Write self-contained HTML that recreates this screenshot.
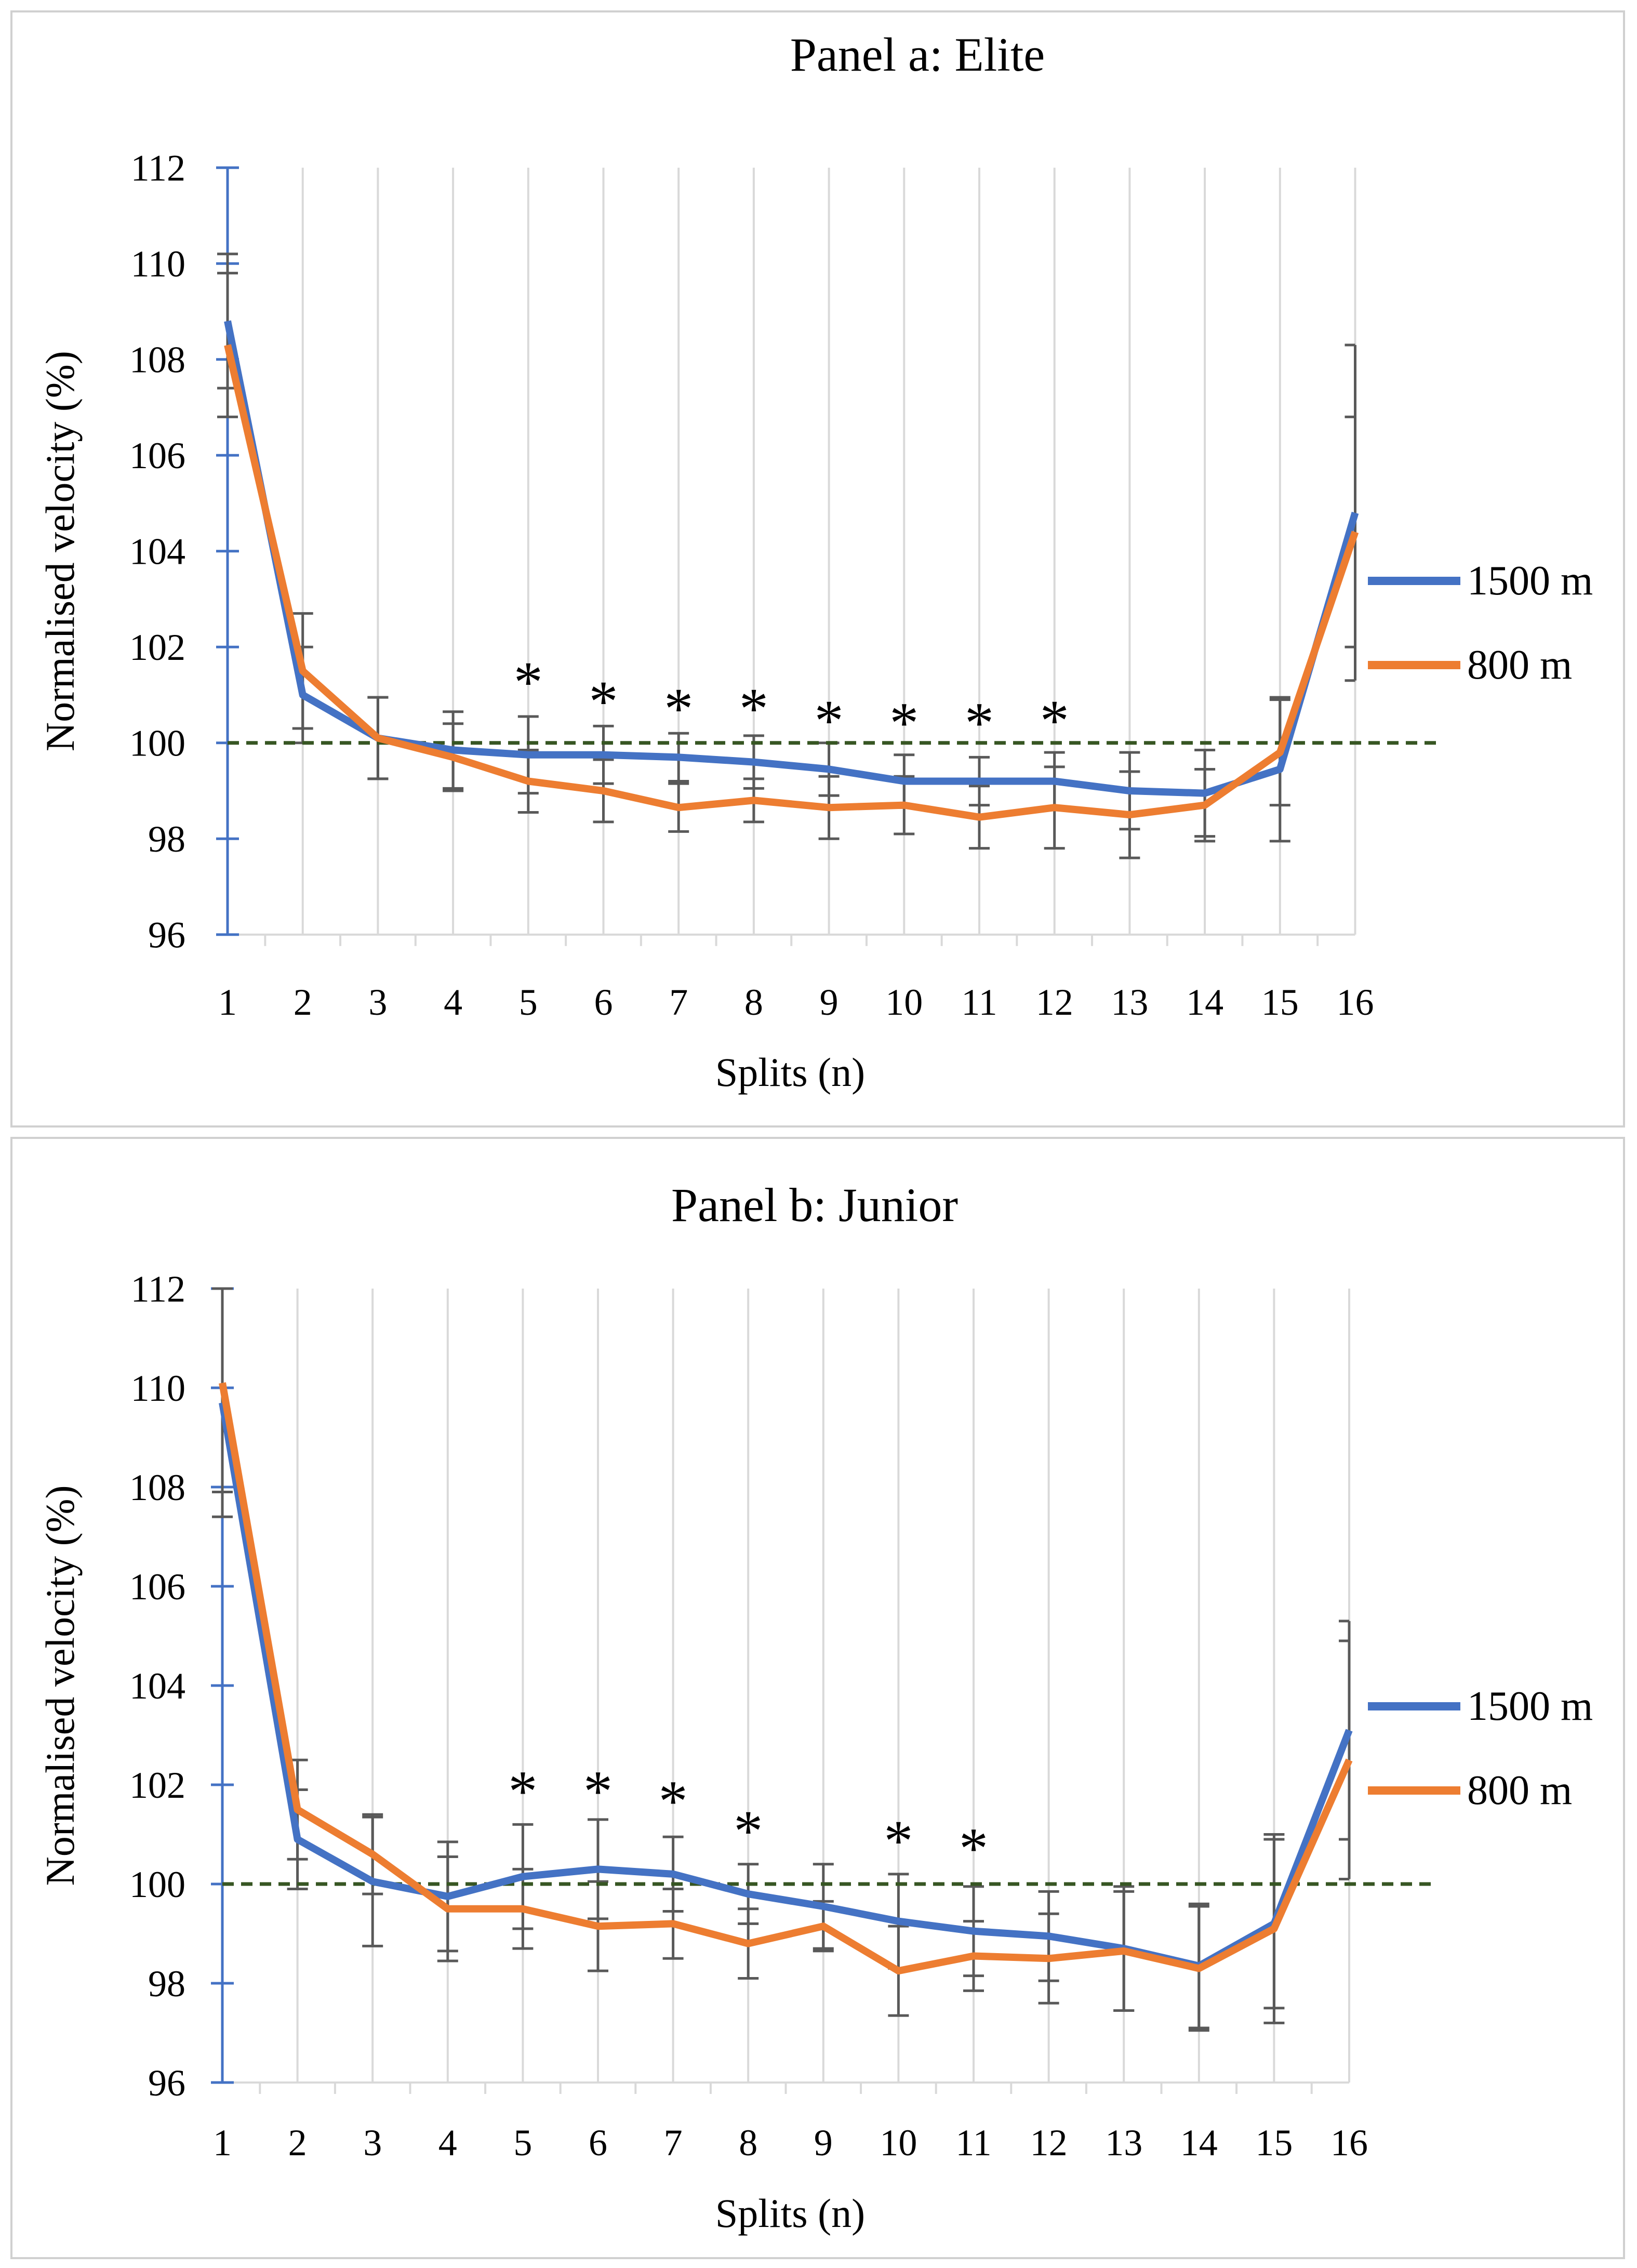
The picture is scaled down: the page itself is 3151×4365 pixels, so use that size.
<!DOCTYPE html>
<html><head><meta charset="utf-8"><style>
html,body{margin:0;padding:0;background:#fff}
svg{display:block}
text{font-family:"Liberation Serif",serif;fill:#000}
</style></head><body>
<svg id="fig" width="3151" height="4365" viewBox="0 0 3151 4365" xmlns="http://www.w3.org/2000/svg">
<rect x="22" y="22" width="3104" height="2146" fill="#fff" stroke="#d0d0d0" stroke-width="4"/>
<rect x="22" y="2190" width="3104" height="2156" fill="#fff" stroke="#d0d0d0" stroke-width="4"/>
</svg>
<script>
const categories = [1,2,3,4,5,6,7,8,9,10,11,12,13,14,15,16];
const yTicks = [96,98,100,102,104,106,108,110,112];
const eliteSeries1500 = [108.8,101.0,100.1,99.85,99.75,99.75,99.7,99.6,99.45,99.2,99.2,99.2,99.0,98.95,99.45,104.8];
const eliteSeries800 = [108.3,101.5,100.1,99.7,99.2,99.0,98.65,98.8,98.65,98.7,98.45,98.65,98.5,98.7,99.8,104.4];
const eliteErr1500 = [1.4,1.0,0.85,0.8,0.8,0.6,0.5,0.55,0.55,0.55,0.5,0.6,0.8,0.9,1.5,3.5];
const eliteErr800 = [1.5,1.2,0.85,0.7,0.65,0.65,0.5,0.45,0.65,0.6,0.65,0.85,0.9,0.75,1.1,2.4];
const eliteStarCats = [5,6,7,8,9,10,11,12];
const eliteStarVals = [101.4,101.0,100.85,100.85,100.6,100.55,100.55,100.6];
const juniorSeries1500 = [109.7,100.9,100.05,99.75,100.15,100.3,100.2,99.8,99.55,99.25,99.05,98.95,98.7,98.35,99.2,103.1];
const juniorSeries800 = [110.1,101.5,100.6,99.5,99.5,99.15,99.2,98.8,99.15,98.25,98.55,98.5,98.65,98.3,99.1,102.5];
const juniorErr1500 = [2.3,1.0,1.3,1.1,1.05,1.0,0.75,0.6,0.85,0.95,0.9,0.9,1.25,1.25,1.7,2.2];
const juniorErr800 = [2.2,1.0,0.8,1.05,0.8,0.9,0.7,0.7,0.5,0.9,0.7,0.9,1.2,1.25,1.9,2.4];
const juniorStarCats = [5,6,7,8,10,11];
const juniorStarVals = [102.0,102.0,101.8,101.2,101.0,100.85];
const refValue = 100;

const NS = "http://www.w3.org/2000/svg";
const svg = document.getElementById('fig');
function mk(tag, attrs, parent){
  const e = document.createElementNS(NS, tag);
  for (const k in attrs) e.setAttribute(k, attrs[k]);
  (parent||svg).appendChild(e);
  return e;
}

function drawPanel(cfg){
  const g = mk('g', {});
  
  
  const x0 = cfg.x0, dx = cfg.dx, yTop = cfg.yTop, yBot = cfg.yBot;
  const xs = c => x0 + (c - 1) * dx;
  const ys = v => yTop + (112 - v) / 16 * (yBot - yTop);
  const xEnd = xs(categories[categories.length-1]);

  const t = mk('text', {x: cfg.titleX, y: cfg.titleY, 'font-size': 92, 'text-anchor': 'middle'}, g);
  t.textContent = cfg.title;
  
  

  categories.forEach(c => {
    if (c === 1) return;
    const l = mk('line', {x1: xs(c), x2: xs(c), y1: yTop, y2: yBot, stroke: '#d9d9d9', 'stroke-width': 4}, g);
    
    
  });
  const xa = mk('line', {x1: x0, x2: xEnd, y1: yBot, y2: yBot, stroke: '#d9d9d9', 'stroke-width': 4}, g);
  
  
  for (let i = 0; i < categories.length - 1; i++) {
    const mx = (xs(categories[i]) + xs(categories[i+1])) / 2;
    const tk = mk('line', {x1: mx, x2: mx, y1: yBot, y2: yBot + 22, stroke: '#d9d9d9', 'stroke-width': 4}, g);
    
    
  }
  categories.forEach(c => {
    const tx = mk('text', {x: xs(c), y: cfg.xLabelY, 'font-size': 72, 'text-anchor': 'middle'}, g);
    tx.textContent = c;
    
    
  });
  const xt = mk('text', {x: 1521, y: cfg.xTitleY, 'font-size': 78, 'text-anchor': 'middle'}, g);
  xt.textContent = 'Splits (n)';
  
  

  const ya = mk('line', {x1: x0, x2: x0, y1: yTop, y2: yBot, stroke: '#4472c4', 'stroke-width': 5}, g);
  
  
  yTicks.forEach(v => {
    const tk = mk('line', {x1: x0 - 22, x2: x0 + 22, y1: ys(v), y2: ys(v), stroke: '#4472c4', 'stroke-width': 5}, g);
    
    
    const tl = mk('text', {x: 357, y: ys(v) + 25, 'font-size': 72, 'text-anchor': 'end'}, g);
    tl.textContent = v;
    
    
  });
  const ymid = (yTop + yBot) / 2;
  const yt = mk('text', {x: 0, y: 0, 'font-size': 78, 'text-anchor': 'middle', transform: `translate(142,${ymid}) rotate(-90)`}, g);
  yt.textContent = 'Normalised velocity (%)';
  
  

  function errBars(vals, errs, name){
    vals.forEach((v, i) => {
      const x = xs(categories[i]);
      const hi = Math.min(v + errs[i], 112), lo = v - errs[i];
      const eb = mk('g', {stroke: '#595959', 'stroke-width': 5}, g);
      
      
      mk('line', {x1: x, x2: x, y1: ys(hi), y2: ys(lo)}, eb);
      const capL = x - 20;
      const capR = i === categories.length - 1 ? x : x + 20;
      mk('line', {x1: capL, x2: capR, y1: ys(hi), y2: ys(hi)}, eb);
      mk('line', {x1: capL, x2: capR, y1: ys(lo), y2: ys(lo)}, eb);
    });
  }
  errBars(cfg.s1500, cfg.e1500, 'error-bar-1500m');
  errBars(cfg.s800, cfg.e800, 'error-bar-800m');

  const rl = mk('line', {x1: x0, x2: 2767, y1: ys(refValue), y2: ys(refValue), stroke: '#375623', 'stroke-width': 7, 'stroke-dasharray': '22 14'}, g);
  
  

  function line(vals, color, name){
    const d = vals.map((v, i) => (i ? 'L' : 'M') + xs(categories[i]).toFixed(1) + ',' + ys(v).toFixed(1)).join(' ');
    const p = mk('path', {d: d, fill: 'none', stroke: color, 'stroke-width': 14, 'stroke-linejoin': 'round'}, g);
    
    
  }
  line(cfg.s1500, '#4472c4', 'line-1500m');
  line(cfg.s800, '#ed7d31', 'line-800m');

  cfg.starCats.forEach((c, i) => {
    const st = mk('text', {x: xs(c), y: ys(cfg.starVals[i]) + 50, 'font-size': 112, 'text-anchor': 'middle'}, g);
    st.textContent = '*';
    
    
  });

  [['1500 m', '#4472c4', cfg.legY1, 'legend-entry-1500m'], ['800 m', '#ed7d31', cfg.legY2, 'legend-entry-800m']].forEach(L => {
    const lg = mk('g', {}, g);
    
    
    mk('line', {x1: 2633, x2: 2811, y1: L[2], y2: L[2], stroke: L[1], 'stroke-width': 16}, lg);
    const lt = mk('text', {x: 2824, y: L[2] + 26, 'font-size': 80}, lg);
    lt.textContent = L[0];
  });
}

drawPanel({id: 'panel-a-elite', title: 'Panel a: Elite', titleX: 1766, titleY: 136,
  x0: 438, dx: 144.7, yTop: 322.7, yBot: 1798.7, xLabelY: 1953, xTitleY: 2090,
  s1500: eliteSeries1500, s800: eliteSeries800, e1500: eliteErr1500, e800: eliteErr800,
  starCats: eliteStarCats, starVals: eliteStarVals, legY1: 1118, legY2: 1280});
drawPanel({id: 'panel-b-junior', title: 'Panel b: Junior', titleX: 1568, titleY: 2350,
  x0: 428, dx: 144.6, yTop: 2480, yBot: 4008, xLabelY: 4148, xTitleY: 4286,
  s1500: juniorSeries1500, s800: juniorSeries800, e1500: juniorErr1500, e800: juniorErr800,
  starCats: juniorStarCats, starVals: juniorStarVals, legY1: 3284, legY2: 3446});
</script>
</body></html>
